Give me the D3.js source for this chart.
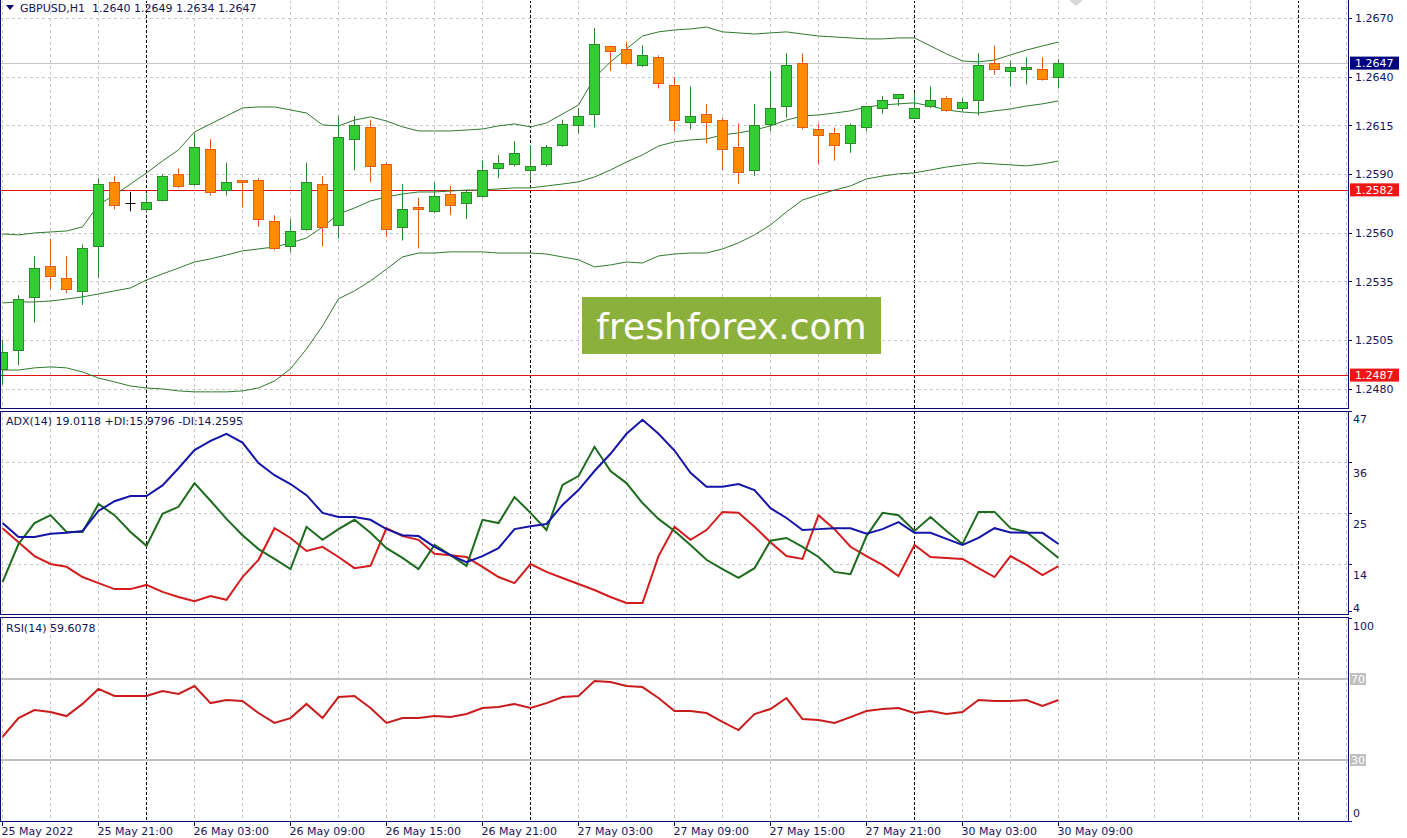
<!DOCTYPE html>
<html><head><meta charset="utf-8">
<script src="https://cdn.jsdelivr.net/npm/d3@7"></script>
<style>
html,body{margin:0;padding:0;background:#fff;overflow:hidden;}
svg{display:block;font-family:"DejaVu Sans",sans-serif;}
</style></head><body>
<svg id="c" width="1407" height="838"></svg>
<script>
// ---------- DATA ----------
const symbolTitle = "GBPUSD,H1  1.2640 1.2649 1.2634 1.2647";
const adxTitle = "ADX(14) 19.0118 +DI:15.9796 -DI:14.2595";
const rsiTitle = "RSI(14) 59.6078";
const watermark = "freshforex.com";

const opens  = [1.2490,1.2500,1.2527,1.2543,1.2537,1.2530,1.2553,1.2586,1.2575,1.2572,1.2577,1.2590,1.2585,1.2603,1.2582,1.2587,1.2587,1.2566,1.2553,1.2562,1.2585,1.2564,1.2608,1.2614,1.2595,1.2563,1.2573,1.2571,1.2580,1.2575,1.2579,1.2593,1.2595,1.2592,1.2595,1.2605,1.2615,1.2621,1.2656,1.2654,1.2646,1.2650,1.2636,1.2617,1.2621,1.2618,1.2604,1.2592,1.2616,1.2625,1.2647,1.2613,1.2611,1.2606,1.2614,1.2624,1.2629,1.2619,1.2625,1.2629,1.2624,1.2628,1.2647,1.2643,1.2644,1.2644,1.2640];
const highs  = [1.2505,1.2528,1.2548,1.2557,1.2548,1.2554,1.2588,1.2589,1.2581,1.2580,1.2590,1.2593,1.2611,1.2608,1.2596,1.2587,1.2588,1.2569,1.2567,1.2596,1.2589,1.2620,1.2620,1.2618,1.2596,1.2585,1.2578,1.2586,1.2584,1.2582,1.2597,1.2600,1.2607,1.2605,1.2605,1.2618,1.2624,1.2665,1.2656,1.2658,1.2656,1.2651,1.2640,1.2635,1.2626,1.2619,1.2616,1.2626,1.2643,1.2652,1.2652,1.2616,1.2614,1.2616,1.2625,1.2630,1.2631,1.2632,1.2635,1.2630,1.2629,1.2652,1.2656,1.2648,1.2650,1.2650,1.2649];
const lows   = [1.2482,1.2492,1.2514,1.2531,1.2529,1.2523,1.2537,1.2572,1.2571,1.2570,1.2576,1.2583,1.2584,1.2579,1.2579,1.2573,1.2563,1.2551,1.2550,1.2561,1.2553,1.2557,1.2592,1.2586,1.2558,1.2556,1.2552,1.2570,1.2569,1.2567,1.2578,1.2588,1.2594,1.2587,1.2594,1.2604,1.2611,1.2614,1.2643,1.2646,1.2645,1.2634,1.2612,1.2613,1.2606,1.2592,1.2585,1.2589,1.2612,1.2619,1.2613,1.2595,1.2597,1.2601,1.2612,1.2621,1.2625,1.2619,1.2624,1.2622,1.2622,1.2620,1.2641,1.2635,1.2636,1.2638,1.2634];
const closes = [1.2499,1.2526,1.2542,1.2538,1.2531,1.2552,1.2585,1.2574,1.2575,1.2576,1.2589,1.2584,1.2604,1.2581,1.2586,1.2586,1.2567,1.2552,1.2561,1.2586,1.2563,1.2609,1.2615,1.2594,1.2562,1.2572,1.2572,1.2579,1.2574,1.2581,1.2592,1.2596,1.2601,1.2594,1.2604,1.2616,1.2620,1.2657,1.2653,1.2647,1.2651,1.2637,1.2618,1.2620,1.2617,1.2603,1.2591,1.2615,1.2624,1.2646,1.2614,1.2610,1.2605,1.2615,1.2625,1.2628,1.2631,1.2624,1.2628,1.2623,1.2627,1.2646,1.2644,1.2645,1.2645,1.2639,1.2647];

const bbUpper  = [1.25594,1.25589,1.25599,1.25604,1.25609,1.25630,1.25743,1.25794,1.25850,1.25907,1.25968,1.26025,1.26117,1.26158,1.26199,1.26240,1.26245,1.26245,1.26230,1.26214,1.26153,1.26148,1.26178,1.26194,1.26173,1.26143,1.26122,1.26122,1.26122,1.26127,1.26132,1.26148,1.26158,1.26143,1.26163,1.26209,1.26255,1.26394,1.26476,1.26543,1.26609,1.26630,1.26640,1.26645,1.26655,1.26630,1.26625,1.26619,1.26625,1.26630,1.26619,1.26609,1.26604,1.26599,1.26594,1.26594,1.26599,1.26599,1.26558,1.26517,1.26481,1.26476,1.26486,1.26512,1.26537,1.26558,1.26578];
const bbMiddle = [1.25240,1.25245,1.25245,1.25250,1.25260,1.25271,1.25286,1.25302,1.25317,1.25358,1.25389,1.25419,1.25450,1.25466,1.25486,1.25507,1.25517,1.25527,1.25548,1.25573,1.25630,1.25696,1.25727,1.25763,1.25784,1.25799,1.25809,1.25809,1.25814,1.25819,1.25819,1.25825,1.25830,1.25830,1.25840,1.25850,1.25861,1.25886,1.25922,1.25963,1.25999,1.26045,1.26066,1.26076,1.26081,1.26102,1.26112,1.26127,1.26148,1.26178,1.26199,1.26204,1.26214,1.26225,1.26245,1.26255,1.26261,1.26266,1.26250,1.26230,1.26219,1.26214,1.26225,1.26235,1.26250,1.26261,1.26276];
const bbLower  = [1.24896,1.24896,1.24907,1.24912,1.24907,1.24886,1.24855,1.24835,1.24814,1.24804,1.24799,1.24789,1.24784,1.24784,1.24784,1.24789,1.24804,1.24840,1.24902,1.25004,1.25122,1.25261,1.25302,1.25353,1.25414,1.25476,1.25496,1.25496,1.25502,1.25502,1.25502,1.25496,1.25496,1.25496,1.25491,1.25476,1.25461,1.25425,1.25435,1.25450,1.25445,1.25481,1.25491,1.25496,1.25496,1.25517,1.25548,1.25589,1.25640,1.25707,1.25768,1.25794,1.25819,1.25840,1.25876,1.25891,1.25902,1.25907,1.25922,1.25937,1.25948,1.25958,1.25953,1.25948,1.25943,1.25953,1.25968];

const adx     = [23.5,20.5,20.5,21.2,21.4,21.8,26.1,28.2,29.3,29.3,31.6,35.3,39.2,41.2,42.7,40.8,36.4,33.8,31.9,29.5,25.7,24.8,24.8,24.2,22.2,20.9,20.7,18.4,16.6,15.1,16.4,18.1,22.2,22.8,23.3,27.4,30.6,34.7,38.4,42.7,45.7,42.7,39.1,34.3,31.3,31.3,31.9,30.6,26.7,24.6,22.0,22.2,22.4,22.4,21.2,22.2,23.7,21.4,21.4,20.1,18.8,20.3,22.4,21.5,21.4,21.4,19.01];
const plusDI  = [10.8,19.0,23.5,25.2,21.6,21.6,27.6,25.2,21.6,18.6,25.5,27.0,32.1,28.3,24.4,20.9,17.9,15.8,13.6,22.7,19.9,22.2,24.2,21.4,18.1,16.0,13.6,18.8,16.6,14.3,24.2,23.5,29.1,25.7,22.0,31.7,33.6,39.9,34.7,32.1,27.8,24.4,21.8,18.8,15.6,13.6,11.7,13.8,19.7,20.3,18.4,16.2,13.0,12.5,20.7,25.7,25.2,21.8,24.8,21.8,19.0,25.9,25.9,22.4,21.6,18.8,15.98];
const minusDI = [22.4,19.4,16.4,14.7,14.1,11.9,10.6,9.3,9.3,10.2,8.7,7.6,6.7,7.8,7.0,11.9,15.6,22.4,20.3,17.5,18.4,16.2,13.8,14.3,22.4,20.7,19.9,16.9,16.6,16.2,14.1,11.9,10.6,14.7,13.0,11.7,10.4,9.1,7.6,6.3,6.3,16.4,22.7,19.9,22.0,25.9,25.7,22.7,19.4,16.4,15.8,25.2,22.2,18.4,16.4,14.5,12.1,18.8,16.2,16.0,15.8,13.8,11.9,16.4,14.5,12.3,14.26];

const rsi = [41.4,50.7,54.7,53.7,51.7,57.7,65.1,61.6,61.6,61.6,64.1,62.6,66.5,58.1,59.6,59.1,53.2,48.3,50.7,57.7,50.7,61.1,61.6,55.7,48.3,50.7,50.7,51.7,51.2,52.7,55.7,56.2,57.7,55.7,58.1,61.1,61.6,69.0,68.5,66.5,66.0,60.6,54.2,54.2,53.2,48.8,44.8,52.7,55.2,60.6,50.2,49.8,48.3,51.2,54.2,55.2,55.7,53.2,54.2,52.7,53.7,59.6,59.1,59.1,59.6,56.7,59.61];

const priceTicks = [1.2670,1.2640,1.2615,1.2590,1.2560,1.2535,1.2505,1.2480];
const adxTickValues = [47.7,36.7,25.7,14.7,4.7];
const adxTickLabels = ["47","36","25","14","4"];
const rsiScaleTicks = [100,0];
const rsiLevels = [70,30];
const hLevels = [1.2582,1.2487];
const lastPrice = 1.2647;
const timeLabelIdx = [0,6,12,18,24,30,36,42,48,54,60,66];
const timeLabels = ["25 May 2022","25 May 21:00","26 May 03:00","26 May 09:00","26 May 15:00","26 May 21:00","27 May 03:00","27 May 09:00","27 May 15:00","27 May 21:00","30 May 03:00","30 May 09:00"];
const daySeparatorIdx = [9,33,57,81];

// ---------- LAYOUT ----------
const axisX = 1348;
const P = {
  main: {top: 0, bottom: 408},
  adx:  {top: 411, bottom: 614},
  rsi:  {top: 617, bottom: 821}
};
const NAVY = "#0a0a6e", TXT = "#14145a", GRID = "#c8c8c8";

const svg = d3.select("#c");
const x = d3.scaleLinear().domain([0, 81]).range([2, 1298]);
const yMain = d3.scaleLinear().domain([1.2480, 1.2670]).range([388.75, 18.25]);
const yAdx = d3.scaleLinear().domain([4.7, 47.7]).range([610.5, 410.55]);
const yRsi = d3.scaleLinear().domain([0, 100]).range([820.75, 618.25]);
const px = v => Math.round(v) + 0.5;

// clip paths
const defs = svg.append("defs");
Object.entries(P).forEach(([k, p]) => {
  defs.append("clipPath").attr("id", "clip-" + k)
    .append("rect").attr("x", 1).attr("y", p.top + 1).attr("width", axisX - 1).attr("height", p.bottom - p.top - 1);
});

// vertical grid + separators in every panel
const gridIdx = d3.range(0, 85, 3).filter(i => x(i) < axisX - 1 && !daySeparatorIdx.includes(i));
Object.entries(P).forEach(([k, p]) => {
  const g = svg.append("g").attr("clip-path", `url(#clip-${k})`);
  g.selectAll("line.vg").data(gridIdx).join("line")
    .attr("x1", d => px(x(d))).attr("x2", d => px(x(d)))
    .attr("y1", p.top).attr("y2", p.bottom)
    .attr("stroke", GRID).attr("stroke-dasharray", "3,3");
  g.selectAll("line.sep").data(daySeparatorIdx).join("line")
    .attr("x1", d => px(x(d))).attr("x2", d => px(x(d)))
    .attr("y1", p.top).attr("y2", p.bottom)
    .attr("stroke", "#000").attr("stroke-dasharray", "3,2");
});

// ---------- MAIN PANEL ----------
const gm = svg.append("g").attr("clip-path", "url(#clip-main)");
gm.selectAll("line.hg").data(priceTicks).join("line")
  .attr("x1", 0).attr("x2", axisX).attr("y1", d => px(yMain(d))).attr("y2", d => px(yMain(d)))
  .attr("stroke", GRID).attr("stroke-dasharray", "3,3");
// last price line
gm.append("line").attr("x1", 0).attr("x2", axisX)
  .attr("y1", px(yMain(lastPrice))).attr("y2", px(yMain(lastPrice)))
  .attr("stroke", "#c8c8c8");
// horizontal levels
gm.selectAll("line.lvl").data(hLevels).join("line")
  .attr("x1", 0).attr("x2", axisX).attr("y1", d => px(yMain(d))).attr("y2", d => px(yMain(d)))
  .attr("stroke", "#e01010");

// Bollinger bands
const bandLine = d3.line().x((d, i) => x(i) + 0.5).y(d => yMain(d));
[bbUpper, bbMiddle, bbLower].forEach(arr => {
  gm.append("path").attr("d", bandLine(arr)).attr("fill", "none")
    .attr("stroke", "#2f7a2f").attr("stroke-width", 1);
});

// candles
const candles = d3.range(opens.length).map(i => ({i, o: opens[i], h: highs[i], l: lows[i], c: closes[i]}));
const cg = gm.append("g");
candles.forEach(d => {
  const cx = Math.round(x(d.i)) + 0.5;
  const up = d.c > d.o, dn = d.c < d.o;
  const wick = up ? "#2a8a2a" : dn ? "#e0561b" : "#000";
  cg.append("line").attr("x1", cx).attr("x2", cx)
    .attr("y1", yMain(d.h)).attr("y2", yMain(d.l)).attr("stroke", wick);
  if (!up && !dn) {
    cg.append("line").attr("x1", cx - 5).attr("x2", cx + 5)
      .attr("y1", px(yMain(d.o))).attr("y2", px(yMain(d.o))).attr("stroke", "#000");
  } else {
    const yt = Math.round(yMain(Math.max(d.o, d.c))), yb = Math.round(yMain(Math.min(d.o, d.c)));
    cg.append("rect").attr("x", cx - 5).attr("y", yt + 0.5)
      .attr("width", 10).attr("height", Math.max(1, yb - yt))
      .attr("fill", up ? "#32cd32" : "#ff8c00")
      .attr("stroke", up ? "#2a8a2a" : "#e0601a").attr("stroke-width", 1);
  }
});

// watermark
svg.append("rect").attr("x", 582).attr("y", 297).attr("width", 299).attr("height", 57).attr("fill", "#8cb03c");
svg.append("text").attr("x", 731.5).attr("y", 339).attr("text-anchor", "middle")
  .attr("font-size", 36).attr("fill", "#fff").text(watermark);

// small marker at top
svg.append("path").attr("d", "M1069,0 L1083,0 L1076,6 Z").attr("fill", "#d8d8d8");

// header
svg.append("path").attr("d", "M6,5 L14,5 L10,10 Z").attr("fill", NAVY);
svg.append("text").attr("x", 20).attr("y", 12).attr("font-size", 11).attr("fill", TXT)
  .style("white-space", "pre").text(symbolTitle);

// price axis labels
svg.selectAll("text.pl").data(priceTicks).join("text")
  .attr("x", 1355).attr("y", d => yMain(d) + 4).attr("font-size", 11).attr("fill", TXT)
  .text(d => d.toFixed(4));
svg.selectAll("line.pt").data(priceTicks).join("line")
  .attr("x1", axisX).attr("x2", axisX + 4).attr("y1", d => px(yMain(d))).attr("y2", d => px(yMain(d)))
  .attr("stroke", NAVY);
// level labels
const lvlG = svg.selectAll("g.lvlLab").data(hLevels).join("g");
lvlG.append("rect").attr("x", 1350).attr("y", d => yMain(d) - 6.5).attr("width", 49).attr("height", 13).attr("fill", "#f01414");
lvlG.append("text").attr("x", 1355).attr("y", d => yMain(d) + 4).attr("font-size", 11).attr("fill", "#fff").text(d => d.toFixed(4));
svg.append("rect").attr("x", 1350).attr("y", yMain(lastPrice) - 6.5).attr("width", 49).attr("height", 13).attr("fill", "#000080");
svg.append("text").attr("x", 1355).attr("y", yMain(lastPrice) + 4).attr("font-size", 11).attr("fill", "#fff").text(lastPrice.toFixed(4));

// ---------- ADX PANEL ----------
const ga = svg.append("g").attr("clip-path", "url(#clip-adx)");
ga.selectAll("line.hg").data(adxTickValues.slice(1, 4)).join("line")
  .attr("x1", 0).attr("x2", axisX).attr("y1", d => px(yAdx(d))).attr("y2", d => px(yAdx(d)))
  .attr("stroke", GRID).attr("stroke-dasharray", "3,3");
const adxLine = d3.line().x((d, i) => x(i) + 0.5).y(d => yAdx(d));
ga.append("path").attr("d", adxLine(minusDI)).attr("fill", "none").attr("stroke", "#d41c1c").attr("stroke-width", 2);
ga.append("path").attr("d", adxLine(plusDI)).attr("fill", "none").attr("stroke", "#1d6b1d").attr("stroke-width", 2);
ga.append("path").attr("d", adxLine(adx)).attr("fill", "none").attr("stroke", "#1414a8").attr("stroke-width", 2);
svg.append("text").attr("x", 6).attr("y", 425).attr("font-size", 11).attr("fill", TXT).text(adxTitle);
adxTickValues.forEach((v, k) => {
  const yy = yAdx(v);
  const by = k === 0 ? yy + 12.5 : (k === adxTickValues.length - 1 ? yy + 1 : yy + 15);
  svg.append("text").attr("x", 1353).attr("y", by).attr("font-size", 11).attr("fill", TXT).text(adxTickLabels[k]);
  svg.append("line").attr("x1", axisX).attr("x2", axisX + 4).attr("y1", px(yy)).attr("y2", px(yy)).attr("stroke", NAVY);
});

// ---------- RSI PANEL ----------
const gr = svg.append("g").attr("clip-path", "url(#clip-rsi)");
gr.selectAll("line.lv").data(rsiLevels).join("line")
  .attr("x1", 0).attr("x2", axisX).attr("y1", d => yRsi(d)).attr("y2", d => yRsi(d))
  .attr("stroke", "#c0c0c0").attr("stroke-width", 2);
const rsiLine = d3.line().x((d, i) => x(i) + 0.5).y(d => yRsi(d));
gr.append("path").attr("d", rsiLine(rsi)).attr("fill", "none").attr("stroke", "#c81c1c").attr("stroke-width", 2);
svg.append("text").attr("x", 6).attr("y", 632).attr("font-size", 11).attr("fill", TXT).text(rsiTitle);
svg.append("text").attr("x", 1353).attr("y", yRsi(100) + 12).attr("font-size", 11).attr("fill", TXT).text(String(rsiScaleTicks[0]));
svg.append("text").attr("x", 1353).attr("y", yRsi(0) - 3.5).attr("font-size", 11).attr("fill", TXT).text(String(rsiScaleTicks[1]));
rsiLevels.forEach(v => {
  svg.append("rect").attr("x", 1350).attr("y", yRsi(v) - 6).attr("width", 16).attr("height", 12).attr("fill", "#c0c0c0");
  svg.append("text").attr("x", 1351).attr("y", yRsi(v) + 4).attr("font-size", 11).attr("fill", "#fff").text(String(v));
});
rsiScaleTicks.forEach(v => {
  svg.append("line").attr("x1", axisX).attr("x2", axisX + 4).attr("y1", px(yRsi(v))).attr("y2", px(yRsi(v))).attr("stroke", NAVY);
});

// ---------- BORDERS ----------
Object.values(P).forEach(p => {
  svg.append("line").attr("x1", 0.5).attr("x2", 0.5).attr("y1", p.top).attr("y2", p.bottom).attr("stroke", NAVY);
  svg.append("line").attr("x1", 0).attr("x2", axisX + 1).attr("y1", p.bottom + 0.5).attr("y2", p.bottom + 0.5).attr("stroke", NAVY);
  if (p.top > 0) svg.append("line").attr("x1", 0).attr("x2", axisX + 1).attr("y1", p.top + 0.5).attr("y2", p.top + 0.5).attr("stroke", NAVY);
  svg.append("line").attr("x1", axisX + 0.5).attr("x2", axisX + 0.5).attr("y1", p.top).attr("y2", p.bottom + 1).attr("stroke", NAVY);
});

// ---------- TIME AXIS ----------
svg.selectAll("text.tl").data(timeLabelIdx).join("text")
  .attr("x", d => Math.round(x(d)) - 0.5).attr("y", 835).attr("font-size", 11).attr("fill", TXT)
  .text((d, k) => timeLabels[k]);
svg.selectAll("line.tt").data(timeLabelIdx).join("line")
  .attr("x1", d => px(x(d))).attr("x2", d => px(x(d))).attr("y1", P.rsi.bottom + 1).attr("y2", P.rsi.bottom + 5)
  .attr("stroke", NAVY);
</script>
</body></html>
